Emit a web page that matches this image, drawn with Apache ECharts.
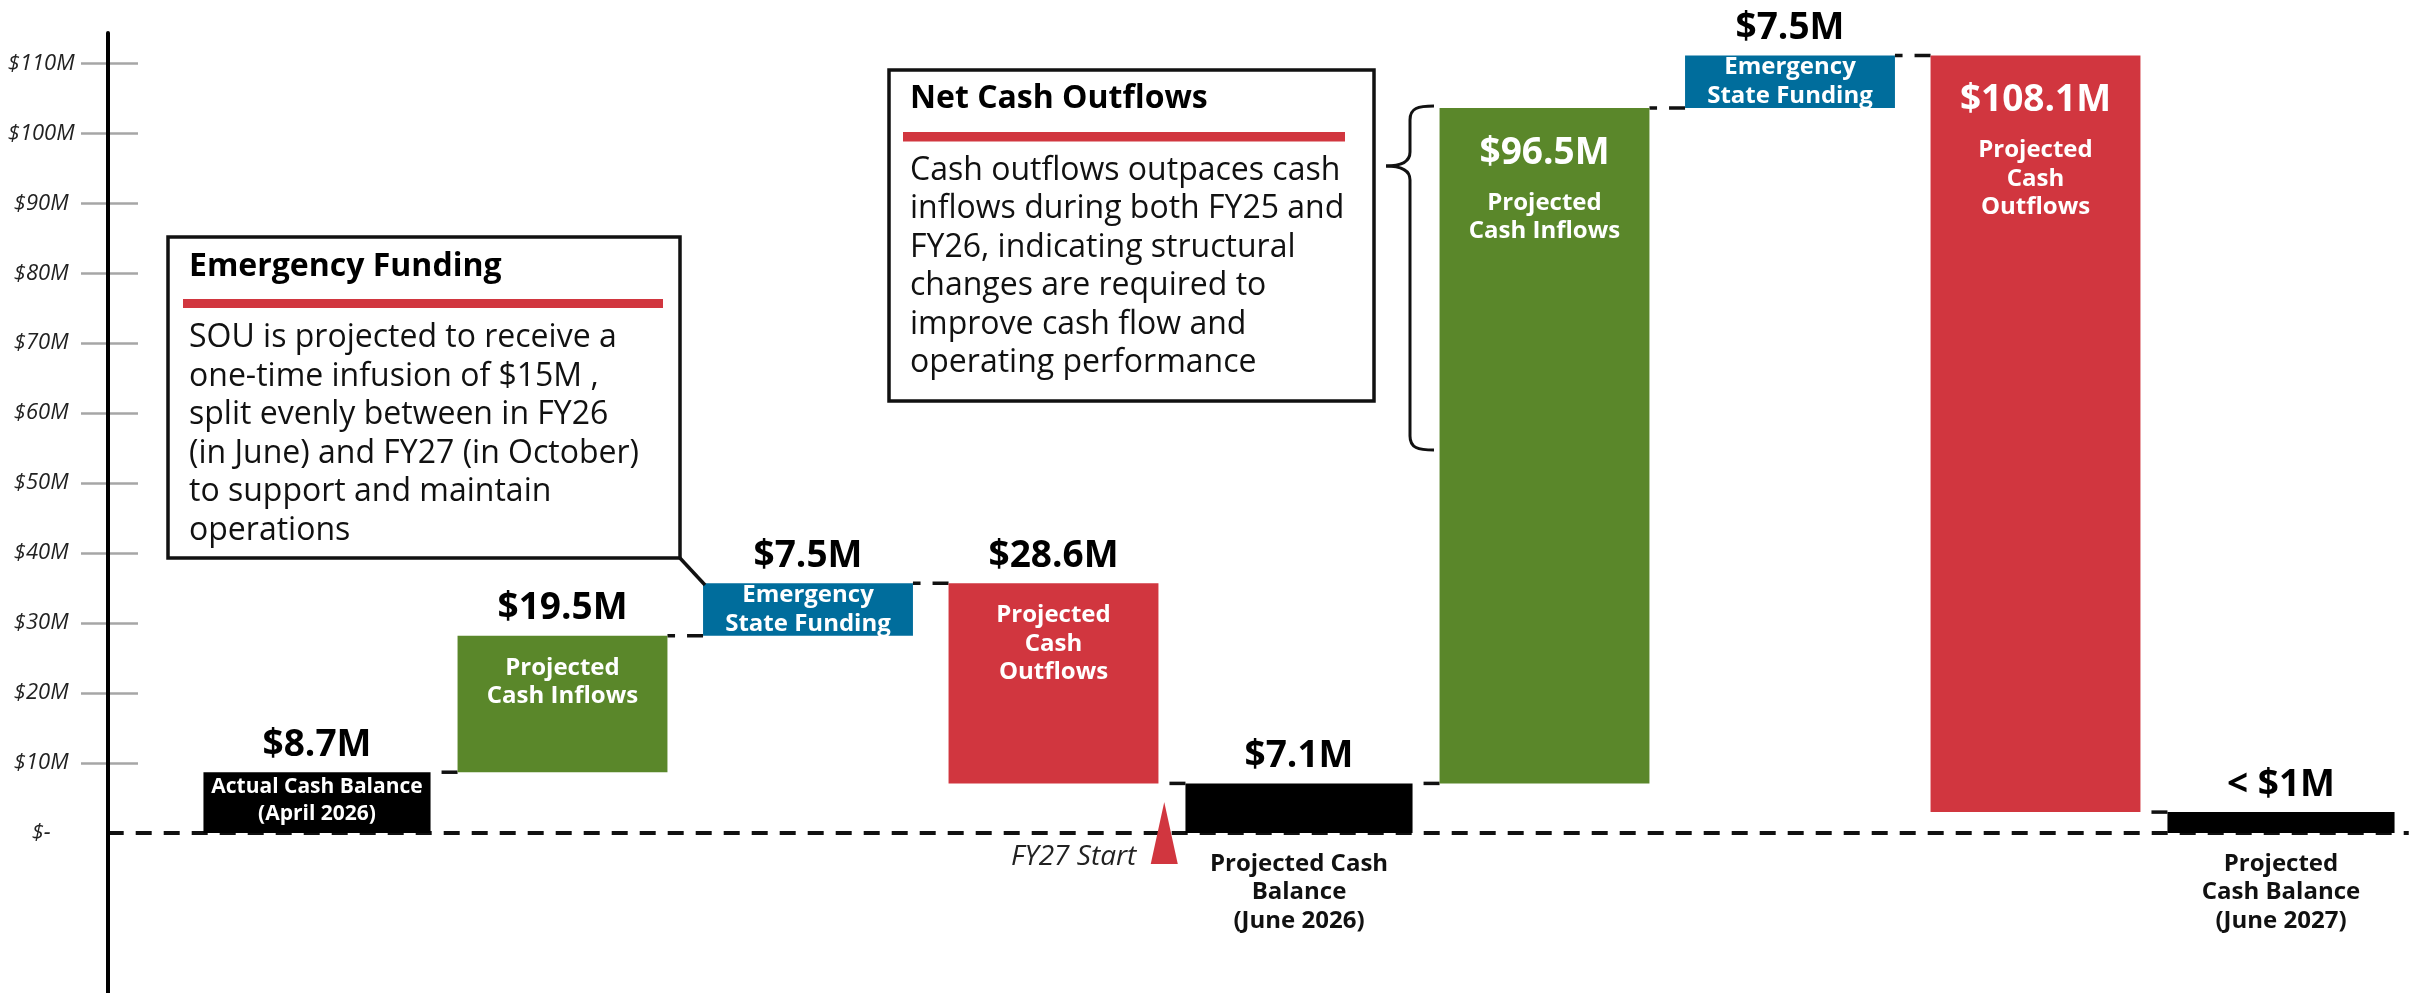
<!DOCTYPE html>
<html>
<head>
<meta charset="utf-8">
<script src="https://cdn.jsdelivr.net/npm/echarts@6/dist/echarts.min.js"></script>
<style>
html,body{margin:0;padding:0;background:#fff;}
#chart{width:2425px;height:993px;}
</style>
</head>
<body>
<div id="chart"></div>
<script>
// ---------------- data ----------------
const categories = [
  'Actual Cash Balance (April 2026)',
  'Projected Cash Inflows (FY26)',
  'Emergency State Funding (June 2026)',
  'Projected Cash Outflows (FY26)',
  'Projected Cash Balance (June 2026)',
  'Projected Cash Inflows (FY27)',
  'Emergency State Funding (October 2026)',
  'Projected Cash Outflows (FY27)',
  'Projected Cash Balance (June 2027)'
];
const values = [8.7, 19.5, 7.5, -28.6, 7.1, 96.5, 7.5, -108.1, 3.0];
const kinds = ['actual', 'inflow', 'funding', 'outflow', 'projected', 'inflow', 'funding', 'outflow', 'projected'];
const valueLabels = ['$8.7M', '$19.5M', '$7.5M', '$28.6M', '$7.1M', '$96.5M', '$7.5M', '$108.1M', '< $1M'];
const barTexts = [
  'Actual Cash Balance\n(April 2026)',
  'Projected\nCash Inflows',
  'Emergency\nState Funding',
  'Projected\nCash\nOutflows',
  'Projected Cash\nBalance\n(June 2026)',
  'Projected\nCash Inflows',
  'Emergency\nState Funding',
  'Projected\nCash\nOutflows',
  'Projected\nCash Balance\n(June 2027)'
];
const tickValues = [0, 10, 20, 30, 40, 50, 60, 70, 80, 90, 100, 110];
const tickLabels = ['$-', '$10M', '$20M', '$30M', '$40M', '$50M', '$60M', '$70M', '$80M', '$90M', '$100M', '$110M'];

const note1Title = 'Emergency Funding';
const note1Lines = [
  'SOU is projected to receive a',
  'one-time infusion of $15M ,',
  'split evenly between in FY26',
  '(in June) and FY27 (in October)',
  'to support and maintain',
  'operations'
];
const note2Title = 'Net Cash Outflows';
const note2Lines = [
  'Cash outflows outpaces cash',
  'inflows during both FY25 and',
  'FY26, indicating structural',
  'changes are required to',
  'improve cash flow and',
  'operating performance'
];
const markerText = 'FY27 Start';

// ---------------- styles ----------------
const FONT = '"Open Sans", "Liberation Sans", sans-serif';
const colors = {
  actual: '#000000', projected: '#000000',
  inflow: '#5A872A', funding: '#006D9C', outflow: '#D1363F'
};
const RED = '#D1363F';
const GRID_LEFT = 194.25, GRID_WIDTH = 2209.5;
const AXIS_X = 107.7;          // x of the vertical axis line
const TICK_X = 81;             // left end of the tick marks
const Y_AXIS_OFFSET = GRID_LEFT - AXIS_X;
const VALUE_FONT = 'bold 37px ' + FONT;
const CAT_FONT = 'bold 24px ' + FONT;

// waterfall start/end built from the values
let running = 0;
const bars = values.map((v, i) => {
  const k = kinds[i];
  let s, e;
  if (k === 'actual' || k === 'projected') { s = 0; e = v; running = v; }
  else { s = running; e = running + v; running = e; }
  return [i, s, e];
});

function barWidth(k, band) {
  return band * ((k === 'actual' || k === 'projected') ? 0.925 : 0.855);
}

function renderBar(params, api) {
  const i = params.dataIndex;
  const cat = api.value(0), s = api.value(1), e = api.value(2);
  const band = api.size([1, 0])[0];
  const k = kinds[i];
  const w = barWidth(k, band);
  const pTop = api.coord([cat, Math.max(s, e)]);
  const pBot = api.coord([cat, Math.min(s, e)]);
  const cx = pTop[0];
  const x = cx - w / 2;
  const top = pTop[1], bottom = pBot[1], h = bottom - top;
  const children = [{
    type: 'rect', shape: { x: x, y: top, width: w, height: h },
    style: { fill: colors[k] }
  }];
  if (i < values.length - 1) {
    const nw = barWidth(kinds[i + 1], band);
    const nx = api.coord([cat + 1, 0])[0] - nw / 2;
    const yl = api.coord([cat, e])[1];
    children.push({
      type: 'line', shape: { x1: nx, y1: yl, x2: x + w, y2: yl },
      style: { stroke: '#111', lineWidth: 3.5, lineDash: [16, 12] }, z2: -1
    });
  }
  const tall = h > 300;
  const valueStyle = {
    text: valueLabels[i], x: cx, fill: tall ? '#fff' : '#000',
    font: VALUE_FONT, align: 'center', verticalAlign: 'middle'
  };
  if (tall) {
    valueStyle.y = top + 45;
    children.push({ type: 'text', style: valueStyle, z2: 10 });
    children.push({ type: 'text', z2: 10, style: {
      text: barTexts[i], x: cx, y: top + 95 - 14.25, fill: '#fff',
      font: CAT_FONT, lineHeight: 28.5, align: 'center', verticalAlign: 'top'
    }});
  } else {
    valueStyle.y = top - 27;
    children.push({ type: 'text', style: valueStyle, z2: 10 });
    if (k === 'actual') {
      children.push({ type: 'text', z2: 10, style: {
        text: barTexts[i], x: cx, y: (top + bottom) / 2 - 2, fill: '#fff',
        font: 'bold 21px ' + FONT, lineHeight: 27, align: 'center', verticalAlign: 'middle'
      }});
    } else if (k === 'projected') {
      children.push({ type: 'text', z2: 10, style: {
        text: barTexts[i], x: cx, y: bottom + 31 - 14.25, fill: '#111',
        font: CAT_FONT, lineHeight: 28.5, align: 'center', verticalAlign: 'top'
      }});
    } else if (k === 'funding') {
      children.push({ type: 'text', z2: 10, style: {
        text: barTexts[i], x: cx, y: (top + bottom) / 2, fill: '#fff',
        font: CAT_FONT, lineHeight: 28.5, align: 'center', verticalAlign: 'middle'
      }});
    } else {
      children.push({ type: 'text', z2: 10, style: {
        text: barTexts[i], x: cx, y: top + 32 - 14.25, fill: '#fff',
        font: CAT_FONT, lineHeight: 28.5, align: 'center', verticalAlign: 'top'
      }});
    }
  }
  return { type: 'group', children: children };
}

function renderBase(params, api) {
  const cs = params.coordSys;
  const y0 = api.coord([0, 0])[1];
  const axisX = cs.x - Y_AXIS_OFFSET;
  const xm = (api.coord([3, 0])[0] + api.coord([4, 0])[0]) / 2 - 12;
  return { type: 'group', children: [
    { type: 'line', shape: { x1: axisX, y1: y0, x2: cs.x + cs.width + 5, y2: y0 },
      style: { stroke: '#111', lineWidth: 4, lineDash: [16, 12] } },
    { type: 'polygon', shape: { points: [[xm, y0 - 31], [xm - 13.5, y0 + 31], [xm + 13.5, y0 + 31]] },
      style: { fill: RED } },
    { type: 'text', style: { text: markerText, x: xm - 28, y: y0 + 24, fill: '#222',
      font: 'italic 28px ' + FONT, align: 'right', verticalAlign: 'middle' } }
  ]};
}

const tickStyle = { color: '#a6a6a6', width: 2.5 };
const braceStyle = { stroke: '#111', lineWidth: 3, fill: null };

const option = {
  backgroundColor: '#ffffff',
  animation: false,
  grid: { left: GRID_LEFT, right: 2425 - GRID_LEFT - GRID_WIDTH, top: 33, bottom: 0, containLabel: false },
  xAxis: { type: 'category', data: categories, show: false },
  yAxis: [{
    type: 'value', min: -22.85, max: 114.33, position: 'left', offset: Y_AXIS_OFFSET, z: 3,
    splitLine: { show: false },
    axisLine: { show: true, lineStyle: { color: '#000', width: 4 } },
    axisTick: { show: false },
    axisLabel: {
      show: true, customValues: tickValues,
      formatter: function (v) { const j = tickValues.indexOf(Math.round(v)); return j >= 0 ? tickLabels[j] : ''; },
      align: 'center', margin: 66.5, fontFamily: FONT, fontStyle: 'italic', fontSize: 22, color: '#222'
    }
  }, {
    // carries the tick marks that cross the axis line
    type: 'value', min: -22.85, max: 114.33, position: 'right',
    offset: TICK_X - (GRID_LEFT + GRID_WIDTH), z: 1,
    splitLine: { show: false },
    axisLine: { show: false },
    axisLabel: { show: false },
    axisTick: { show: true, inside: false, length: 57, customValues: tickValues.slice(1), lineStyle: tickStyle }
  }],
  series: [{
    type: 'custom', name: 'baseline', z: 1, data: [[0, 0]], renderItem: renderBase, silent: true
  }, {
    type: 'custom', name: 'cash', z: 2, data: bars, renderItem: renderBar,
    encode: { x: 0, y: [1, 2] }
  }],
  graphic: [
    { type: 'rect', z: 100, shape: { x: 168, y: 237, width: 512, height: 321 },
      style: { fill: '#fff', stroke: '#111', lineWidth: 3.5 } },
    { type: 'text', z: 101, style: { text: note1Title, x: 189, y: 267, fill: '#000',
      font: 'bold 32px ' + FONT, align: 'left', verticalAlign: 'middle' } },
    { type: 'rect', z: 101, shape: { x: 183, y: 299, width: 480, height: 9 }, style: { fill: RED } },
    { type: 'text', z: 101, style: { text: note1Lines.join('\n'), x: 189, y: 318.75, fill: '#111',
      font: '32px ' + FONT, lineHeight: 38.5, align: 'left', verticalAlign: 'top' } },
    { type: 'polyline', z: 100, shape: { points: [[679, 557], [705, 585]] },
      style: { stroke: '#111', lineWidth: 3.5, fill: null } },
    { type: 'rect', z: 100, shape: { x: 889, y: 70, width: 485, height: 331 },
      style: { fill: '#fff', stroke: '#111', lineWidth: 3.5 } },
    { type: 'text', z: 101, style: { text: note2Title, x: 910, y: 99, fill: '#000',
      font: 'bold 32px ' + FONT, align: 'left', verticalAlign: 'middle' } },
    { type: 'rect', z: 101, shape: { x: 903, y: 132, width: 442, height: 9.5 }, style: { fill: RED } },
    { type: 'text', z: 101, style: { text: note2Lines.join('\n'), x: 910, y: 151.25, fill: '#111',
      font: '32px ' + FONT, lineHeight: 38.5, align: 'left', verticalAlign: 'top' } },
    // brace
    { type: 'bezierCurve', z: 100, shape: { x1: 1434, y1: 106, cpx1: 1418, cpy1: 106, cpx2: 1410, cpy2: 108, x2: 1410, y2: 120 }, style: braceStyle },
    { type: 'line', z: 100, shape: { x1: 1410, y1: 120, x2: 1410, y2: 152 }, style: braceStyle },
    { type: 'bezierCurve', z: 100, shape: { x1: 1410, y1: 152, cpx1: 1410, cpy1: 162, cpx2: 1400, cpy2: 166, x2: 1386, y2: 166 }, style: braceStyle },
    { type: 'bezierCurve', z: 100, shape: { x1: 1386, y1: 166, cpx1: 1400, cpy1: 166, cpx2: 1410, cpy2: 170, x2: 1410, y2: 180 }, style: braceStyle },
    { type: 'line', z: 100, shape: { x1: 1410, y1: 180, x2: 1410, y2: 436 }, style: braceStyle },
    { type: 'bezierCurve', z: 100, shape: { x1: 1410, y1: 436, cpx1: 1410, cpy1: 448, cpx2: 1418, cpy2: 450, x2: 1434, y2: 450 }, style: braceStyle }
  ]
};

const chart = echarts.init(document.getElementById('chart'), null, { renderer: 'canvas' });
chart.setOption(option);
</script>
</body>
</html>
